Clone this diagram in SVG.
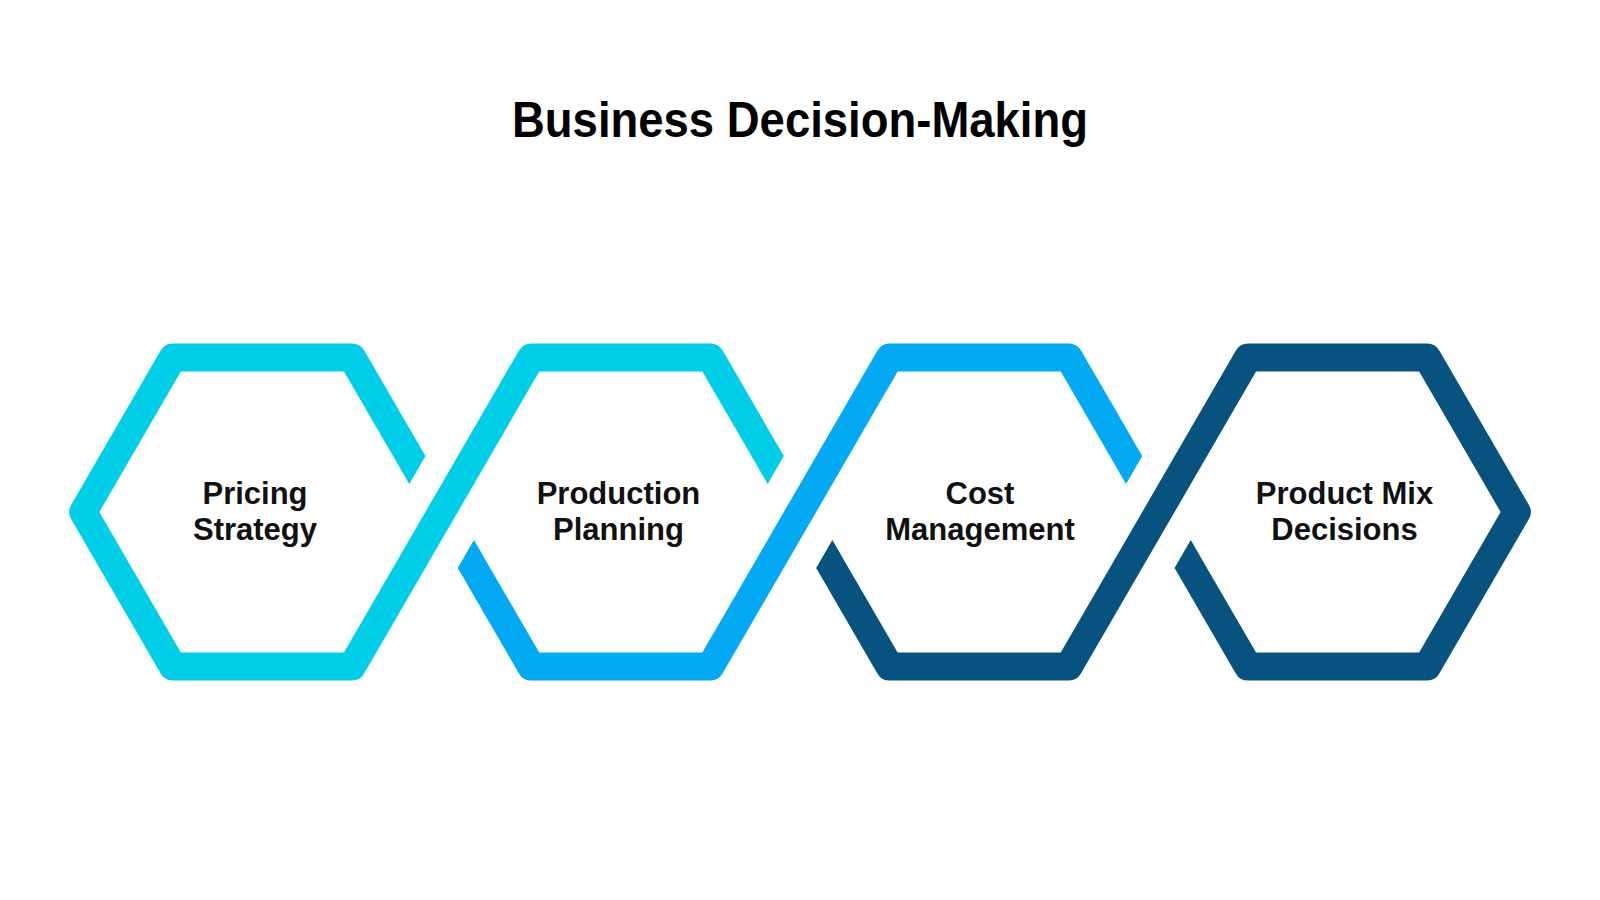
<svg xmlns="http://www.w3.org/2000/svg" width="1600" height="900" viewBox="0 0 1600 900">
  <style>
    .band { fill: none; stroke-width: 28; stroke-linejoin: round; stroke-linecap: butt; }
    .cyan { stroke: #00CDE8; }
    .blue { stroke: #04A9F4; }
    .navy { stroke: #08527F; }
    .fcyan { fill: #00CDE8; }
    .fblue { fill: #04A9F4; }
    .fnavy { fill: #08527F; }
    .title { font-family: "Liberation Sans", Arial, sans-serif; font-weight: 700; font-size: 50px; fill: #000; }
    .label { font-family: "Liberation Sans", Arial, sans-serif; font-weight: 700; font-size: 31px; fill: #111; }
  </style>
  <rect width="1600" height="900" fill="#ffffff"/>
  <text class="title" x="800" y="137" text-anchor="middle" textLength="576" lengthAdjust="spacingAndGlyphs">Business Decision-Making</text>

  <g id="connectors">
    <path id="band-cyan" class="band cyan" d="M 413.31 463 L 352 357.4 L 172.8 357.4 L 83.2 512 L 172.8 666.6 L 352 666.6 L 531.2 357.4 L 710.4 357.4 L 771.71 463"/>
    <polygon class="fcyan" points="424.93,455.13 425.43,456 409.27,484 400.69,469.13"/>
    <polygon class="fcyan" points="783.33,455.13 783.83,456 767.67,484 759.09,469.13"/>

    <path id="band-blue" class="band blue" d="M 469.89 561 L 531.2 666.6 L 710.4 666.6 L 889.6 357.4 L 1068.8 357.4 L 1130.11 463"/>
    <polygon class="fblue" points="458.27,568.87 457.77,568 473.93,540 482.51,554.87"/>
    <polygon class="fblue" points="1141.73,455.13 1142.23,456 1126.07,484 1117.49,469.13"/>

    <path id="band-navy" class="band navy" d="M 828.29 561 L 889.6 666.6 L 1068.8 666.6 L 1248 357.4 L 1427.2 357.4 L 1516.8 512 L 1427.2 666.6 L 1248 666.6 L 1186.69 561"/>
    <polygon class="fnavy" points="816.67,568.87 816.17,568 832.33,540 840.91,554.87"/>
    <polygon class="fnavy" points="1175.07,568.87 1174.57,568 1190.73,540 1199.31,554.87"/>
  </g>

  <g id="node-pricing">
    <text class="label" x="255" y="504" text-anchor="middle">Pricing</text>
    <text class="label" x="255" y="540" text-anchor="middle">Strategy</text>
  </g>
  <g id="node-production">
    <text class="label" x="618.5" y="504" text-anchor="middle">Production</text>
    <text class="label" x="618.5" y="540" text-anchor="middle">Planning</text>
  </g>
  <g id="node-cost">
    <text class="label" x="980" y="504" text-anchor="middle">Cost</text>
    <text class="label" x="980" y="540" text-anchor="middle">Management</text>
  </g>
  <g id="node-mix">
    <text class="label" x="1344.5" y="504" text-anchor="middle">Product Mix</text>
    <text class="label" x="1344.5" y="540" text-anchor="middle">Decisions</text>
  </g>
</svg>
